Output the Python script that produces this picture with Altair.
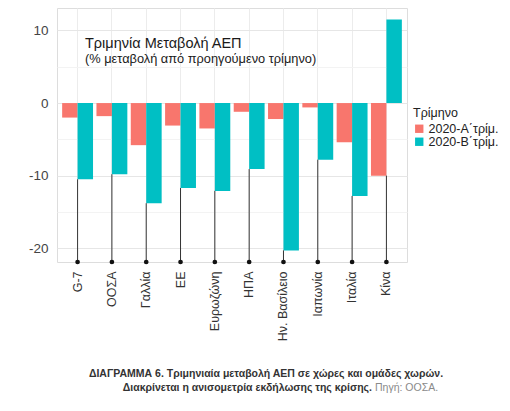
import altair as alt
import pandas as pd

countries = ["G-7", "ΟΟΣΑ", "Γαλλία", "ΕΕ", "Ευρωζώνη", "ΗΠΑ", "Ην. Βασίλειο", "Ιαπωνία", "Ιταλία", "Κίνα"]
quarters = ["2020-Α΄τρίμ.", "2020-Β΄τρίμ."]
q1_values = [-2.0, -1.8, -5.8, -3.1, -3.5, -1.2, -2.2, -0.6, -5.4, -10.0]
q2_values = [-10.5, -9.8, -13.8, -11.7, -12.1, -9.1, -20.3, -7.8, -12.8, 11.5]
stem_base = -21.9
y_domain = [-21.9, 13.1]
colors = ["#F8766D", "#00BFC4"]

rows = []
for c, a, b in zip(countries, q1_values, q2_values):
    rows.append({"country": c, "quarter": quarters[0], "value": a})
    rows.append({"country": c, "quarter": quarters[1], "value": b})
df = pd.DataFrame(rows)

stems = pd.DataFrame({
    "country": countries,
    "low": [min(a, b) for a, b in zip(q1_values, q2_values)],
    "base": [stem_base] * len(countries),
})

FONT = "Liberation Sans"
CAPFONT = "Liberation Sans"

x_enc = alt.X(
    "country:N", sort=countries, title=None,
    scale=alt.Scale(paddingInner=0.1, paddingOuter=0.15),
    axis=alt.Axis(labelAngle=270, labelAlign="right", labelBaseline="middle",
                  ticks=False, domain=False, labelPadding=9, labelFontSize=12.5,
                  labelColor="#333333", labelFont=FONT, grid=True, gridColor="#ececec",
                  bandPosition=0.5),
)
y_scale = alt.Scale(domain=y_domain, nice=False, zero=False)

bars = alt.Chart(df).mark_bar().encode(
    x=x_enc,
    xOffset=alt.XOffset("quarter:N", sort=quarters, scale=alt.Scale(paddingInner=0, paddingOuter=0)),
    y=alt.Y("value:Q", scale=y_scale, title=None,
            axis=alt.Axis(values=[-20, -15, -10, -5, 0, 5, 10],
                          labelExpr="datum.value % 10 === 0 ? toString(datum.value) : ''",
                          ticks=False, domain=False, labelPadding=9, labelFontSize=13.5,
                          labelColor="#444444", labelFont=FONT,
                          gridColor={"condition": {"test": "datum.value % 10 === 0", "value": "#e6e6e6"}, "value": "#f3f3f3"})),
    color=alt.Color("quarter:N", scale=alt.Scale(domain=quarters, range=colors),
                    legend=alt.Legend(title="Τρίμηνο", orient="none", legendX=356, legendY=99,
                                      titleFontSize=12.5, titleFontWeight="normal", titleColor="#222222",
                                      titleFont=FONT, labelFont=FONT, labelFontSize=12.5, labelColor="#222222",
                                      symbolType="square", symbolSize=70, symbolStrokeWidth=0,
                                      symbolOpacity=1, rowPadding=-6, titlePadding=3, padding=0,
                                      labelOffset=3, labelLimit=200)),
)

rules = alt.Chart(stems).mark_rule(color="#333333", strokeWidth=1).encode(
    x=alt.X("country:N", sort=countries),
    y=alt.Y("low:Q", scale=y_scale),
    y2="base:Q",
)
dots = alt.Chart(stems).mark_circle(color="#111111", opacity=1, size=22).encode(
    x=alt.X("country:N", sort=countries),
    y=alt.Y("base:Q", scale=y_scale),
)

def txt(text, x, y, size, color="#1a1a1a", weight="normal", align="left", font=FONT):
    return alt.Chart(pd.DataFrame({"t": [text]})).mark_text(
        align=align, baseline="alphabetic", fontSize=size, color=color,
        fontWeight=weight, font=font,
    ).encode(text="t:N", x=alt.value(x), y=alt.value(y))

title1 = txt("Τριμηνία Μεταβολή ΑΕΠ", 28, 40, 14.5)
title2 = txt("(% μεταβολή από προηγούμενο τρίμηνο)", 28, 54.5, 12.8)
cap1 = txt("ΔΙΑΓΡΑΜΜΑ 6. Τριμηνιαία μεταβολή ΑΕΠ σε χώρες και ομάδες χωρών.", 209, 369, 10.5,
           color="#333333", weight="bold", align="center", font=CAPFONT)
cap2a = txt("Διακρίνεται η ανισομετρία εκδήλωσης της κρίσης.", 315, 383, 10.5,
            color="#333333", weight="bold", align="right", font=CAPFONT)
cap2b = txt("Πηγή: ΟΟΣΑ.", 318, 383, 10.5, color="#8a8a8a", align="left", font=CAPFONT)

chart = alt.layer(bars, rules, dots, title1, title2, cap1, cap2a, cap2b).properties(
    width=350, height=254,
    autosize=alt.AutoSizeParams(type="none"),
    padding={"left": 49, "top": 0, "right": 95, "bottom": 141},
).configure_view(stroke="#e0e0e0", strokeWidth=1).configure(background="white")

chart.save("out.html", embed_options={"renderer": "svg", "actions": False})
